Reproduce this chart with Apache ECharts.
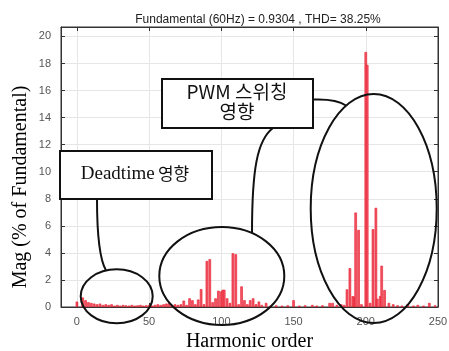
<!DOCTYPE html>
<html>
<head>
<meta charset="utf-8">
<script src="https://cdn.jsdelivr.net/npm/echarts@6/dist/echarts.min.js"></script>
<style>
  html, body { margin: 0; padding: 0; background: #fff; }
  #main { width: 449px; height: 351px; }
</style>
</head>
<body>
<div id="main"></div>
<script>
// harmonic orders and magnitudes (% of fundamental)
const lowOrders = [0, 4, 6, 8, 10, 12, 14, 16, 18, 20, 22, 24, 26, 28, 30, 32, 34, 36, 38, 40, 42, 44, 46, 48, 50, 52, 54, 56, 58, 60, 62];
const lowMags = [0.4, 0.7, 0.5, 0.35, 0.3, 0.25, 0.2, 0.25, 0.15, 0.2, 0.15, 0.2, 0.1, 0.15, 0.1, 0.15, 0.12, 0.1, 0.15, 0.1, 0.12, 0.15, 0.1, 0.12, 0.15, 0.1, 0.15, 0.2, 0.15, 0.2, 0.25];

const band1Orders = [64, 66, 68, 70, 72, 74, 76, 78, 80, 82, 84, 86, 88, 90, 92, 94, 96, 98, 100, 101, 102, 104, 106, 108, 110, 112, 114, 116, 118, 120, 122, 124, 126, 128, 131];
const band1Mags = [0.3, 0.15, 0.2, 0.15, 0.2, 0.47, 0.15, 0.64, 0.5, 0.2, 0.55, 1.32, 0.2, 3.4, 3.53, 0.35, 0.64, 1.2, 1.15, 1.27, 1.27, 0.64, 0.3, 3.97, 3.9, 0.2, 1.52, 0.5, 0.2, 0.5, 0.64, 0.2, 0.4, 0.15, 0.3];

const midOrders = [134, 138, 142, 146, 150, 154, 158, 163, 166, 170, 175, 177, 180, 183, 185];
const midMags = [0.1, 0.12, 0.1, 0.12, 0.5, 0.1, 0.12, 0.15, 0.1, 0.12, 0.3, 0.3, 0.15, 0.2, 0.15];

const band2Orders = [187, 189, 191, 192, 193, 195, 197, 200, 201, 203, 205, 207, 208, 210, 211, 213];
const band2Mags = [1.3, 2.87, 0.8, 0.75, 6.98, 5.7, 0.2, 18.85, 17.9, 0.3, 5.75, 7.33, 0.6, 0.8, 3.05, 1.25];

const highOrders = [216, 219, 222, 225, 229, 233, 236, 240, 244, 248];
const highMags = [0.3, 0.2, 0.12, 0.1, 0.2, 0.1, 0.15, 0.1, 0.3, 0.12];

const titleText = 'Fundamental (60Hz) = 0.9304 , THD= 38.25%';

const orders = [].concat(lowOrders, band1Orders, midOrders, band2Orders, highOrders);
const mags = [].concat(lowMags, band1Mags, midMags, band2Mags, highMags);
const barData = orders.map((h, i) => [h, mags[i]]);

const chart = echarts.init(document.getElementById('main'), null, { renderer: 'canvas' });

const axisColor = '#333';
const labelStyle = { color: '#555', fontSize: 11, fontFamily: 'Liberation Sans' };
const gridColor = '#e6e6e6';
const ink = '#111';

const option = {
  animation: false,
  title: {
    text: titleText,
    left: 253,
    top: 9,
    textAlign: 'center',
    textStyle: { fontSize: 12, fontWeight: 'normal', color: '#222', fontFamily: 'Liberation Sans' }
  },
  grid: {
    left: 61, right: 11, top: 27, bottom: 44,
    containLabel: false,
    outerBoundsMode: 'none',
    show: true, borderColor: axisColor, borderWidth: 1
  },
  xAxis: [
    {
      type: 'value', min: -11, max: 250, splitNumber: 5,
      axisLine: { show: true, onZero: false, lineStyle: { color: axisColor } },
      axisTick: { show: true, inside: true, length: 4, lineStyle: { color: axisColor } },
      axisLabel: Object.assign({ margin: 9, formatter: v => (v >= 0 ? v : '') }, labelStyle),
      splitLine: { show: true, lineStyle: { color: gridColor } },
      name: 'Harmonic order', nameLocation: 'middle', nameGap: 24,
      nameTextStyle: { fontSize: 20, color: '#000', fontFamily: 'Liberation Serif' }
    },
    {
      type: 'value', position: 'top', min: -11, max: 250, splitNumber: 5,
      axisLine: { show: true, onZero: false, lineStyle: { color: axisColor } },
      axisTick: { show: true, inside: true, length: 4, lineStyle: { color: axisColor } },
      axisLabel: { show: false },
      splitLine: { show: false }
    }
  ],
  yAxis: [
    {
      type: 'value', min: 0, max: 20.7, interval: 2,
      axisLine: { show: true, onZero: false, lineStyle: { color: axisColor } },
      axisTick: { show: true, inside: true, length: 4, lineStyle: { color: axisColor } },
      axisLabel: Object.assign({
        margin: 10,
        formatter: v => (Math.abs(v - Math.round(v)) < 1e-6 && Math.round(v) % 2 === 0 ? Math.round(v) : '')
      }, labelStyle),
      splitLine: { show: true, lineStyle: { color: gridColor } }
    },
    {
      type: 'value', position: 'right', min: 0, max: 20.7, interval: 2,
      axisLine: { show: true, onZero: false, lineStyle: { color: axisColor } },
      axisTick: { show: true, inside: true, length: 4, lineStyle: { color: axisColor } },
      axisLabel: { show: false },
      splitLine: { show: false }
    }
  ],
  series: [
    {
      type: 'bar',
      xAxisIndex: 0, yAxisIndex: 0,
      data: barData,
      barWidth: 2.5,
      itemStyle: { color: '#f25563', borderColor: '#e8192c', borderWidth: 0.6 }
    }
  ],
  graphic: [
    // y axis title
    {
      type: 'text', x: 21, y: 187, rotation: Math.PI / 2, z: 100,
      style: {
        text: 'Mag (% of Fundamental)', fill: '#000',
        font: '20px "Liberation Serif"', textAlign: 'center', textVerticalAlign: 'middle'
      }
    },
    // ellipses round the harmonic groups
    { type: 'ellipse', z: 100, shape: { cx: 116.7, cy: 296.3, rx: 36, ry: 27 }, style: { fill: 'none', stroke: ink, lineWidth: 2 } },
    { type: 'ellipse', z: 100, shape: { cx: 221.8, cy: 276, rx: 62.5, ry: 49 }, style: { fill: 'none', stroke: ink, lineWidth: 2 } },
    { type: 'ellipse', z: 100, shape: { cx: 373.7, cy: 208.5, rx: 63, ry: 114.5 }, style: { fill: 'none', stroke: ink, lineWidth: 2 } },
    // callout leaders
    { type: 'bezierCurve', z: 100, shape: { x1: 97, y1: 199, cpx1: 97, cpy1: 240, cpx2: 100, cpy2: 260, x2: 106, y2: 270.5 }, style: { fill: 'none', stroke: ink, lineWidth: 2 } },
    { type: 'bezierCurve', z: 100, shape: { x1: 273, y1: 128, cpx1: 257, cpy1: 140, cpx2: 252, cpy2: 170, x2: 252, y2: 233 }, style: { fill: 'none', stroke: ink, lineWidth: 2 } },
    { type: 'bezierCurve', z: 100, shape: { x1: 313, y1: 99.5, cpx1: 325, cpy1: 99, cpx2: 338, cpy2: 100, x2: 346, y2: 105.5 }, style: { fill: 'none', stroke: ink, lineWidth: 2 } },
    // callout boxes
    { type: 'rect', z: 101, shape: { x: 60, y: 151, width: 152, height: 48 }, style: { fill: '#fff', stroke: ink, lineWidth: 2 } },
    {
      type: 'text', z: 102, x: 135, y: 174,
      style: {
        text: '{s|Deadtime} {k|영향}', textAlign: 'center', textVerticalAlign: 'middle', fill: '#111',
        rich: {
          s: { fontFamily: 'Liberation Serif', fontSize: 19, fill: '#111' },
          k: { fontFamily: 'Noto Sans CJK KR', fontSize: 17, fill: '#111' }
        }
      }
    },
    { type: 'rect', z: 101, shape: { x: 162, y: 79, width: 151, height: 49 }, style: { fill: '#fff', stroke: ink, lineWidth: 2 } },
    {
      type: 'text', z: 102, x: 237, y: 102,
      style: {
        text: 'PWM 스위칭\n영향', textAlign: 'center', textVerticalAlign: 'middle', fill: '#111',
        font: '19px "Noto Sans CJK KR"', lineHeight: 20
      }
    }
  ]
};

chart.setOption(option);
</script>
</body>
</html>
